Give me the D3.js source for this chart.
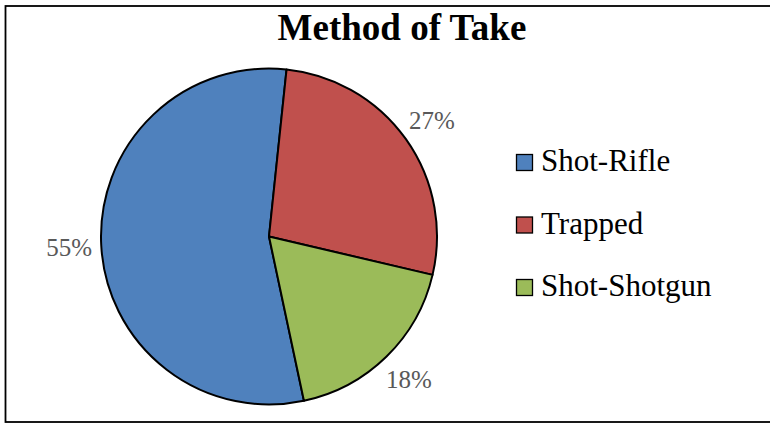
<!DOCTYPE html>
<html>
<head>
<meta charset="utf-8">
<script src="https://cdn.jsdelivr.net/npm/d3@7"></script>
<style>
  body { margin: 0; background: #fff; }
  text { font-family: "Liberation Serif", "Times New Roman", serif; }
</style>
</head>
<body>
<div id="chart"></div>
<script>
// data
const categories = ["Shot-Rifle", "Trapped", "Shot-Shotgun"];
const shares = [55, 27, 18];
const colors = ["#4F81BD", "#C0504D", "#9BBB59"];
const chartTitle = "Method of Take";

const width = 770, height = 424;
const cx = 269, cy = 236.5, radius = 168;

const svg = d3.select("#chart").append("svg")
    .attr("width", width)
    .attr("height", height);

// chart frame (right side runs off the picture)
svg.append("rect")
    .attr("x", 5.5).attr("y", 6)
    .attr("width", width + 20).attr("height", 416)
    .attr("fill", "#fff")
    .attr("stroke", "#000")
    .attr("stroke-width", 1.8);

svg.append("text")
    .attr("x", 402).attr("y", 40)
    .attr("text-anchor", "middle")
    .attr("font-size", 37)
    .attr("font-weight", "bold")
    .text(chartTitle);

//first slice angle of 168 degrees, clockwise
const start = 168 * Math.PI / 180;
const pie = d3.pie().sort(null)
    .startAngle(start)
    .endAngle(start + 2 * Math.PI);
const arcs = pie(shares);

const arc = d3.arc().innerRadius(0).outerRadius(radius);
const labelArc = d3.arc().innerRadius(200).outerRadius(200);

const g = svg.append("g").attr("transform", `translate(${cx},${cy})`);

g.selectAll("path")
    .data(arcs)
    .join("path")
    .attr("d", arc)
    .attr("fill", (d, i) => colors[i])
    .attr("stroke", "#000")
    .attr("stroke-width", 2)
    .attr("stroke-linejoin", "round");

const total = d3.sum(shares);
g.selectAll("text.pct")
    .data(arcs)
    .join("text")
    .attr("class", "pct")
    .attr("transform", d => `translate(${labelArc.centroid(d)})`)
    .attr("text-anchor", "middle")
    .attr("dy", "0.35em")
    .attr("font-size", 25)
    .attr("fill", "#595959")
    .text(d => Math.round(d.data / total * 100) + "%");

// legend
const legend = svg.append("g").attr("transform", "translate(516,154)");
const rows = legend.selectAll("g")
    .data(categories)
    .join("g")
    .attr("transform", (d, i) => `translate(0,${i * 62.5})`);

rows.append("rect")
    .attr("x", 0.5).attr("y", 0.5)
    .attr("width", 16).attr("height", 16)
    .attr("fill", (d, i) => colors[i])
    .attr("stroke", "#000")
    .attr("stroke-width", 1.3);

rows.append("text")
    .attr("x", 25).attr("y", 17)
    .attr("font-size", 31)
    .text(d => d);
</script>
</body>
</html>
